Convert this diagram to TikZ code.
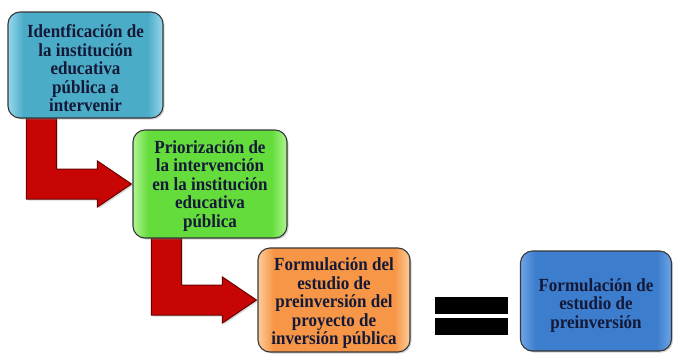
\documentclass[tikz,border=0pt]{standalone}
\usepackage{fontspec}
\setmainfont{Liberation Serif}
\newfontfamily\boxfont[FakeStretch=0.92]{Liberation Serif}
\usetikzlibrary{calc,shadows,backgrounds}
\definecolor{bAbase}{RGB}{75,172,200}
\definecolor{bAlight}{RGB}{150,215,235}
\definecolor{bBbase}{RGB}{100,220,60}
\definecolor{bBlight}{RGB}{175,245,145}
\definecolor{bCbase}{RGB}{247,150,70}
\definecolor{bClight}{RGB}{252,205,155}
\definecolor{bDbase}{RGB}{60,125,205}
\definecolor{bDlight}{RGB}{110,165,230}
\definecolor{txtcol}{RGB}{20,25,55}
\definecolor{edgecol}{RGB}{55,55,55}
\definecolor{arrowred}{RGB}{200,5,5}
\definecolor{arrowdark}{RGB}{105,0,0}
\pgfdeclarehorizontalshading{glossA}{100bp}{color(0bp)=(bAlight); color(25bp)=(bAlight); color(30bp)=(bAbase); color(70bp)=(bAbase); color(75bp)=(bAlight); color(100bp)=(bAlight)}
\pgfdeclarehorizontalshading{glossB}{100bp}{color(0bp)=(bBlight); color(25bp)=(bBlight); color(30bp)=(bBbase); color(70bp)=(bBbase); color(75bp)=(bBlight); color(100bp)=(bBlight)}
\pgfdeclarehorizontalshading{glossC}{100bp}{color(0bp)=(bClight); color(25bp)=(bClight); color(30bp)=(bCbase); color(70bp)=(bCbase); color(75bp)=(bClight); color(100bp)=(bClight)}
\pgfdeclarehorizontalshading{glossD}{100bp}{color(0bp)=(bDlight); color(25bp)=(bDlight); color(30bp)=(bDbase); color(70bp)=(bDbase); color(75bp)=(bDlight); color(100bp)=(bDlight)}
\newcommand\blockarrow[2]{%
  \path[redblock] let \p1=(#1.south west), \p2=(#2.west) in
    (\x1+19pt,\y1+1pt) -- (\x1+49pt,\y1+1pt) -- (\x1+49pt,\y2+15pt)
    -- (\x2-35pt,\y2+15pt) -- (\x2-35pt,\y2+23pt) -- (\x2-1pt,\y2)
    -- (\x2-35pt,\y2-23pt) -- (\x2-35pt,\y2-15pt) -- (\x1+19pt,\y2-15pt) -- cycle;}
\begin{document}
\begin{tikzpicture}[x=1pt,y=-1pt,
  stepbox/.style={draw=edgecol, line width=1.1pt, rounded corners=12pt,
    drop shadow={shadow xshift=1.5pt, shadow yshift=-1.5pt, opacity=0.35}},
  steptext/.style={align=center, text=txtcol, inner sep=0pt,
    font=\boxfont\fontsize{18.5}{18.5}\selectfont\bfseries},
  redblock/.style={fill=arrowred, draw=arrowdark, line width=1pt, line join=miter,
    drop shadow={shadow xshift=1.5pt, shadow yshift=-1.5pt, opacity=0.3}},
  eqbar/.style={fill=black, draw=none, minimum width=73pt, minimum height=17pt, inner sep=0pt}]
\useasboundingbox (0,0) rectangle (673,354);
\node[stepbox, shading=glossA, minimum width=155pt, minimum height=106pt,
  label={[steptext, yshift=-3.5pt]center:{Identficación de\\la institución\\educativa\\pública a\\intervenir}}] (b1) at (85.5,65) {};
\node[stepbox, shading=glossB, minimum width=154pt, minimum height=108pt,
  label={[steptext, yshift=-2pt]center:{Priorización de\\la intervención\\en la institución\\educativa\\pública}}] (b2) at (210,184) {};
\node[stepbox, shading=glossC, minimum width=152pt, minimum height=104pt,
  label={[steptext, yshift=-3.5pt]center:{Formulación del\\estudio de\\preinversión del\\proyecto de\\inversión pública}}] (b3) at (334,300) {};
\node[stepbox, shading=glossD, minimum width=151pt, minimum height=100pt,
  label={[steptext, yshift=-4.5pt]center:{Formulación de\\estudio de\\preinversión}}] (b4) at (596,301) {};
\node[eqbar] (eqA) at (471.5,305.5) {};
\node[eqbar] (eqB) at (471.5,326.5) {};
\begin{scope}[on background layer]
\blockarrow{b1}{b2}
\blockarrow{b2}{b3}
\end{scope}
\end{tikzpicture}
\end{document}
